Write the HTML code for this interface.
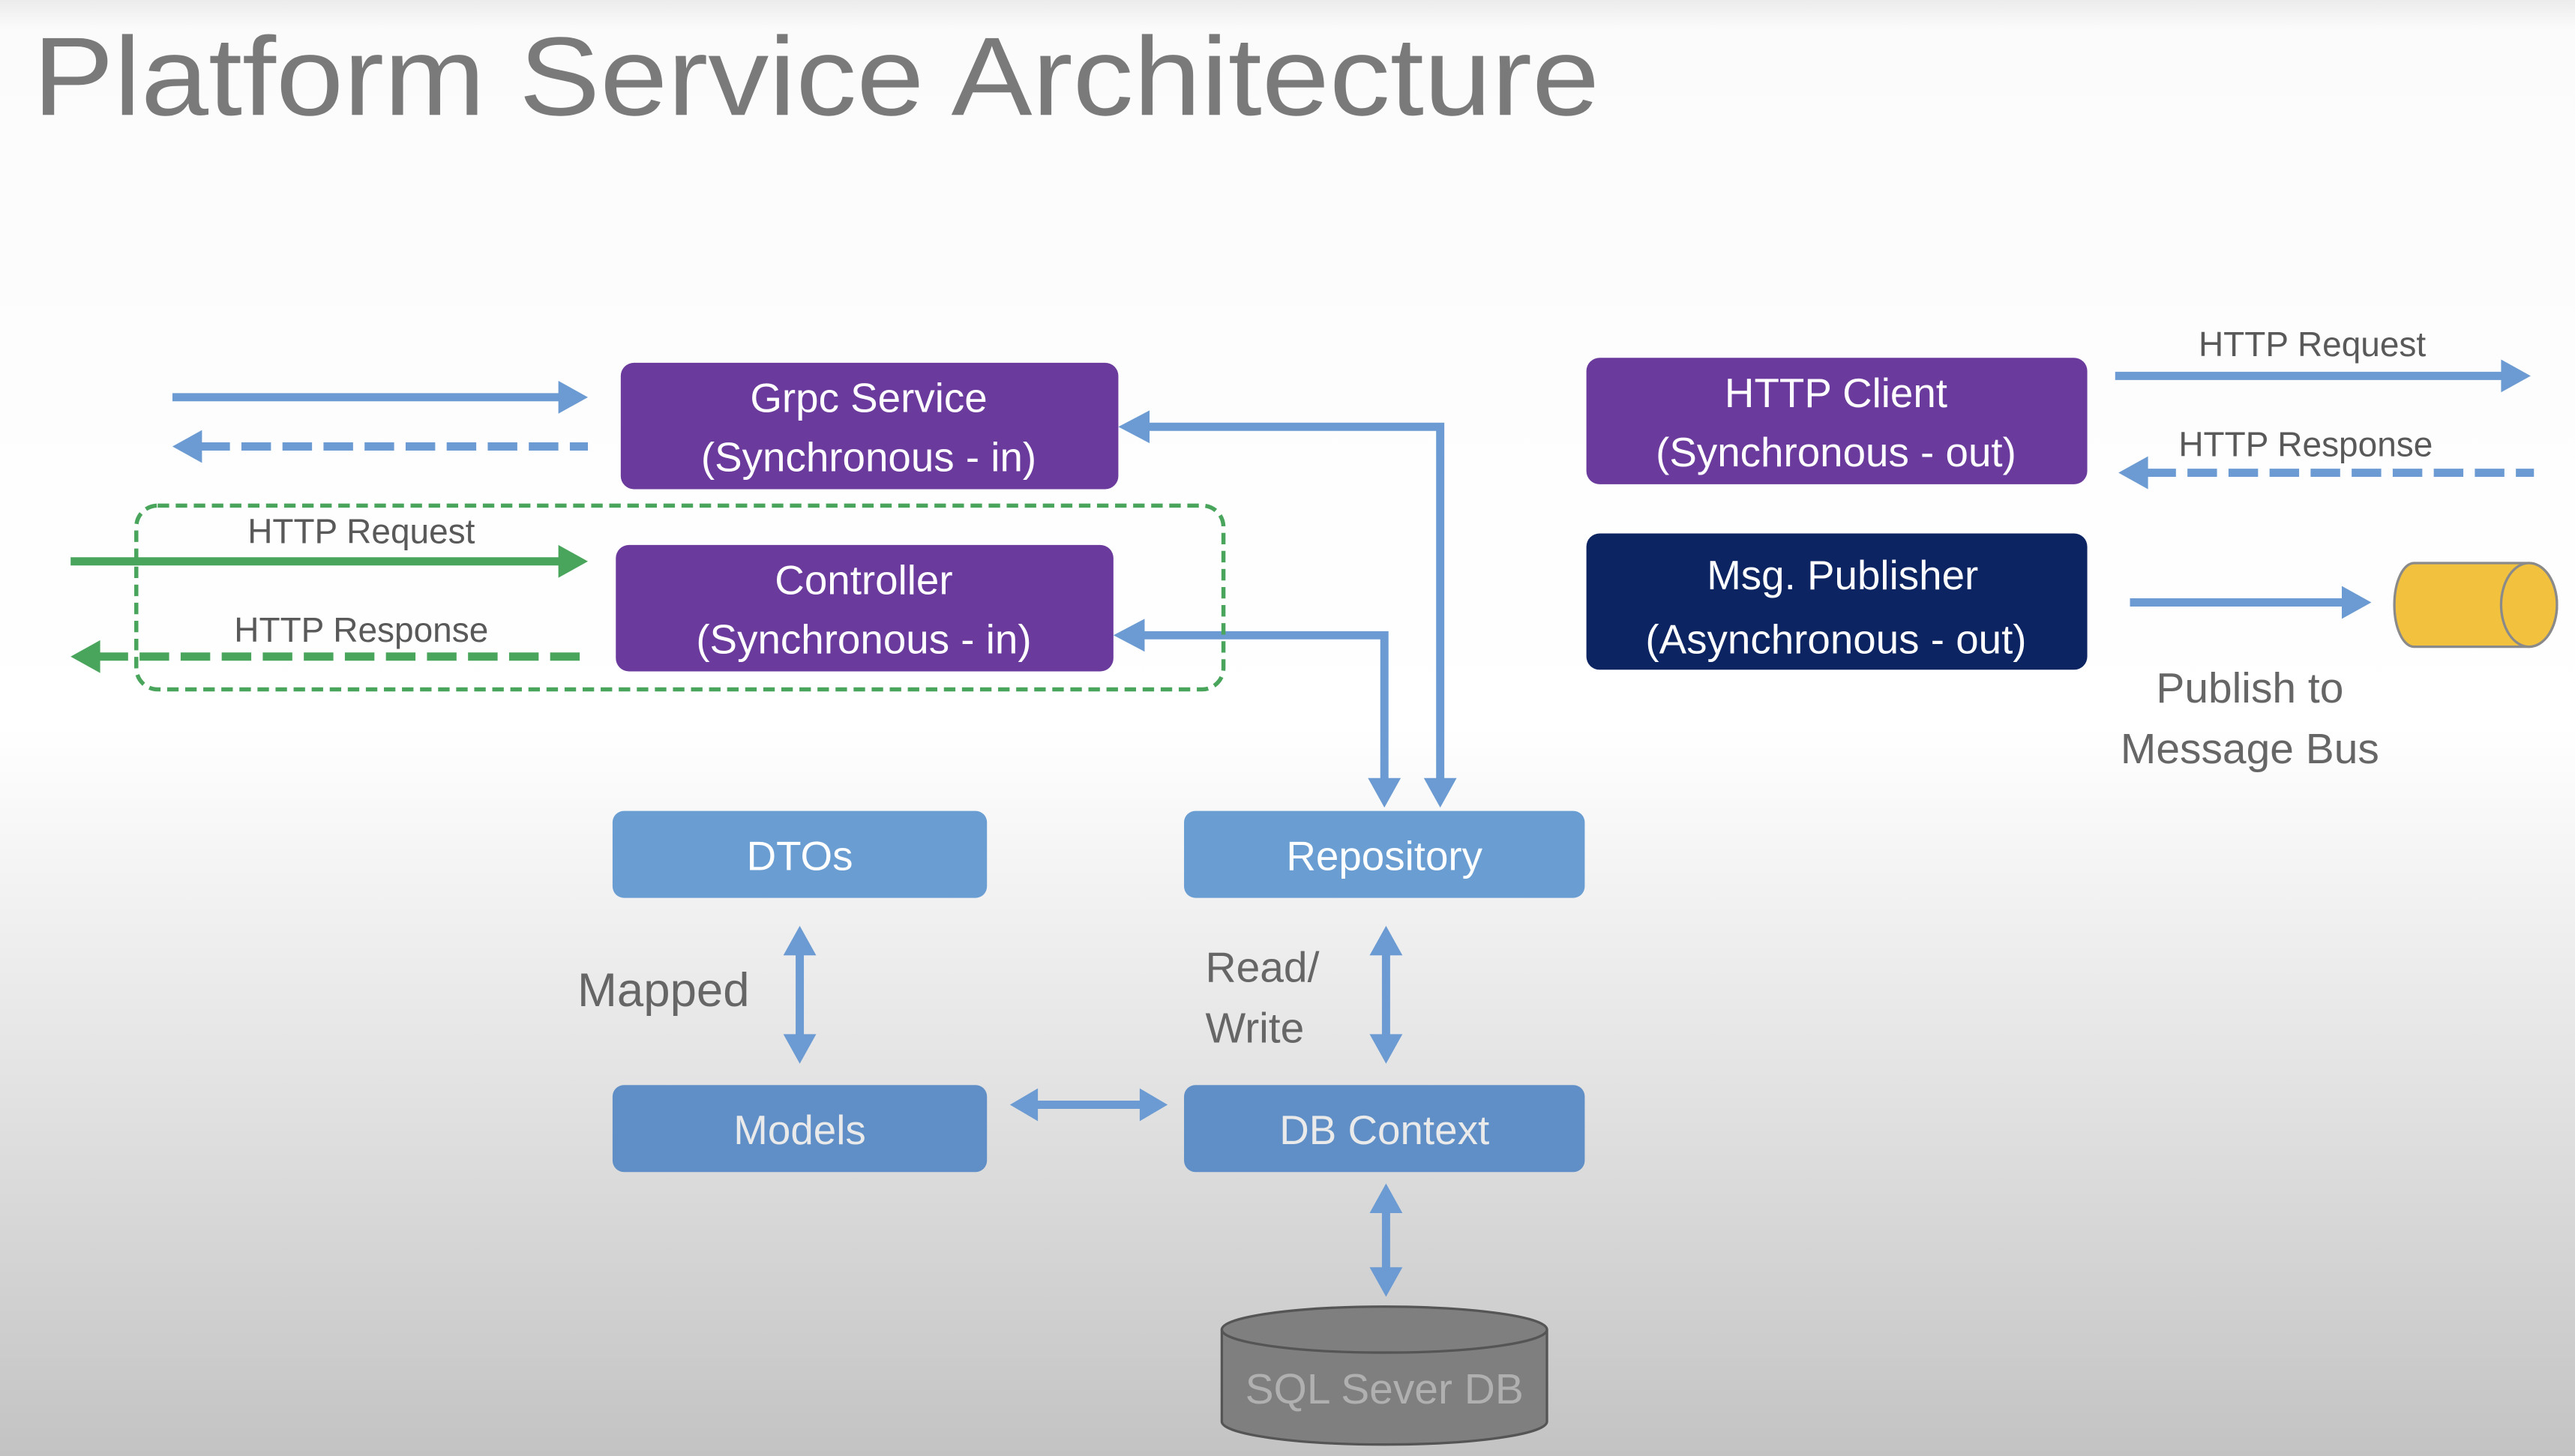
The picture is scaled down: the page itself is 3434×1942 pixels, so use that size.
<!DOCTYPE html>
<html><head><meta charset="utf-8"><style>
html,body{margin:0;padding:0;width:3434px;height:1942px;overflow:hidden;}
svg{display:block;}
text{font-family:"Liberation Sans",sans-serif;}
</style></head><body>
<svg width="3434" height="1942" viewBox="0 0 1568 887" preserveAspectRatio="none" xmlns="http://www.w3.org/2000/svg">
<defs>
<linearGradient id="bg" x1="0" y1="0" x2="0" y2="1">
<stop offset="0" stop-color="#ececec"/>
<stop offset="0.02" stop-color="#fbfbfb"/>
<stop offset="0.5" stop-color="#ffffff"/>
<stop offset="0.75" stop-color="#e2e2e2"/>
<stop offset="1" stop-color="#c3c3c3"/>
</linearGradient>
</defs>
<rect width="1568" height="887" fill="url(#bg)"/>
<text x="20" y="70" font-size="68" fill="#7a7a7a" textLength="954" lengthAdjust="spacingAndGlyphs">Platform Service Architecture</text>

<rect x="378" y="221" width="303" height="77" rx="8" fill="#6a3a9d"/>
<text x="529" y="251" font-size="25" fill="#fff" text-anchor="middle">Grpc Service</text>
<text x="529" y="287" font-size="25" fill="#fff" text-anchor="middle">(Synchronous - in)</text>
<rect x="375" y="332" width="303" height="77" rx="8" fill="#6a3a9d"/>
<text x="526" y="362" font-size="25" fill="#fff" text-anchor="middle">Controller</text>
<text x="526" y="398" font-size="25" fill="#fff" text-anchor="middle">(Synchronous - in)</text>
<rect x="966" y="218" width="305" height="77" rx="8" fill="#6a3a9d"/>
<text x="1118" y="248" font-size="25" fill="#fff" text-anchor="middle">HTTP Client</text>
<text x="1118" y="284" font-size="25" fill="#fff" text-anchor="middle">(Synchronous - out)</text>
<rect x="966" y="325" width="305" height="83" rx="8" fill="#0c2461"/>
<text x="1122" y="359" font-size="25" fill="#fff" text-anchor="middle">Msg. Publisher</text>
<text x="1118" y="398" font-size="25" fill="#fff" text-anchor="middle">(Asynchronous - out)</text>

<rect x="373" y="494" width="228" height="53" rx="7" fill="#6a9ed3"/>
<text x="487" y="530" font-size="25" fill="#fff" text-anchor="middle">DTOs</text>
<rect x="721" y="494" width="244" height="53" rx="7" fill="#6a9ed3"/>
<text x="843" y="530" font-size="25" fill="#fff" text-anchor="middle">Repository</text>
<rect x="373" y="661" width="228" height="53" rx="7" fill="#5f8fc6"/>
<text x="487" y="697" font-size="25" fill="#eaeaea" text-anchor="middle">Models</text>
<rect x="721" y="661" width="244" height="53" rx="7" fill="#5f8fc6"/>
<text x="843" y="697" font-size="25" fill="#eaeaea" text-anchor="middle">DB Context</text>

<g stroke="#6b9bd2" stroke-width="5" fill="none">
<line x1="105" y1="242" x2="342" y2="242"/>
<line x1="122" y1="272" x2="358" y2="272" stroke-dasharray="18 7"/>
<polyline points="877,476 877,260 699,260"/>
<polyline points="843,476 843,387 696,387"/>
<line x1="1288" y1="229" x2="1525" y2="229"/>
<line x1="1307" y1="288" x2="1543" y2="288" stroke-dasharray="18 7"/>
<line x1="1297" y1="367" x2="1428" y2="367"/>
<line x1="487" y1="580" x2="487" y2="632"/>
<line x1="844" y1="580" x2="844" y2="632"/>
<line x1="630" y1="673" x2="695" y2="673"/>
<line x1="844" y1="737" x2="844" y2="774"/>
</g>
<g fill="#6b9bd2">
<polygon points="358,242 340,232 340,252"/>
<polygon points="105,272 123,262 123,282"/>
<polygon points="681,260 700,250 700,270"/>
<polygon points="678,387 697,377 697,397"/>
<polygon points="877,492 867,474 887,474"/>
<polygon points="843,492 833,474 853,474"/>
<polygon points="1541,229 1523,219 1523,239"/>
<polygon points="1290,288 1308,278 1308,298"/>
<polygon points="1444,367 1426,357 1426,377"/>
<polygon points="487,564 477,582 497,582"/>
<polygon points="487,648 477,630 497,630"/>
<polygon points="844,564 834,582 854,582"/>
<polygon points="844,648 834,630 854,630"/>
<polygon points="615,673 632,663 632,683"/>
<polygon points="711,673 694,663 694,683"/>
<polygon points="844,721 834,739 854,739"/>
<polygon points="844,790 834,772 854,772"/>
</g>

<rect x="83" y="308" width="662" height="112" rx="13" fill="none" stroke="#4aa55c" stroke-width="2.5" stroke-dasharray="7 4"/>
<g stroke="#4aa55c" stroke-width="5" fill="none">
<line x1="43" y1="342" x2="342" y2="342"/>
<line x1="60" y1="400" x2="358" y2="400" stroke-dasharray="18 7"/>
</g>
<g fill="#4aa55c">
<polygon points="358,342 340,332 340,352"/>
<polygon points="43,400 61,390 61,410"/>
</g>
<text x="220" y="331" font-size="21" fill="#595959" text-anchor="middle">HTTP Request</text>
<text x="220" y="391" font-size="21" fill="#595959" text-anchor="middle">HTTP Response</text>
<text x="1408" y="217" font-size="21" fill="#595959" text-anchor="middle">HTTP Request</text>
<text x="1404" y="278" font-size="21" fill="#595959" text-anchor="middle">HTTP Response</text>

<path d="M1470,343 L1540,343 A17,25.5 0 0 1 1540,394 L1470,394 A12,25.5 0 0 1 1470,343 Z" fill="#f2c13e" stroke="#8a8a8a" stroke-width="1.5"/>
<ellipse cx="1540" cy="368.5" rx="17" ry="25.5" fill="#f2c13e" stroke="#8a8a8a" stroke-width="1.5"/>
<text x="1370" y="428" font-size="26" fill="#666" text-anchor="middle">Publish to</text>
<text x="1370" y="465" font-size="26" fill="#666" text-anchor="middle">Message Bus</text>

<text x="404" y="613" font-size="29" fill="#666" text-anchor="middle">Mapped</text>
<text x="734" y="598" font-size="26" fill="#666">Read/</text>
<text x="734" y="635" font-size="26" fill="#666">Write</text>

<path d="M744,810 L744,866 A99,14 0 0 0 942,866 L942,810" fill="#7f7f7f" stroke="#555" stroke-width="1.5"/>
<ellipse cx="843" cy="810" rx="99" ry="14" fill="#7f7f7f" stroke="#555" stroke-width="1.5"/>
<text x="843" y="855" font-size="26" fill="#b0b0b0" text-anchor="middle">SQL Sever DB</text>
</svg>
</body></html>
